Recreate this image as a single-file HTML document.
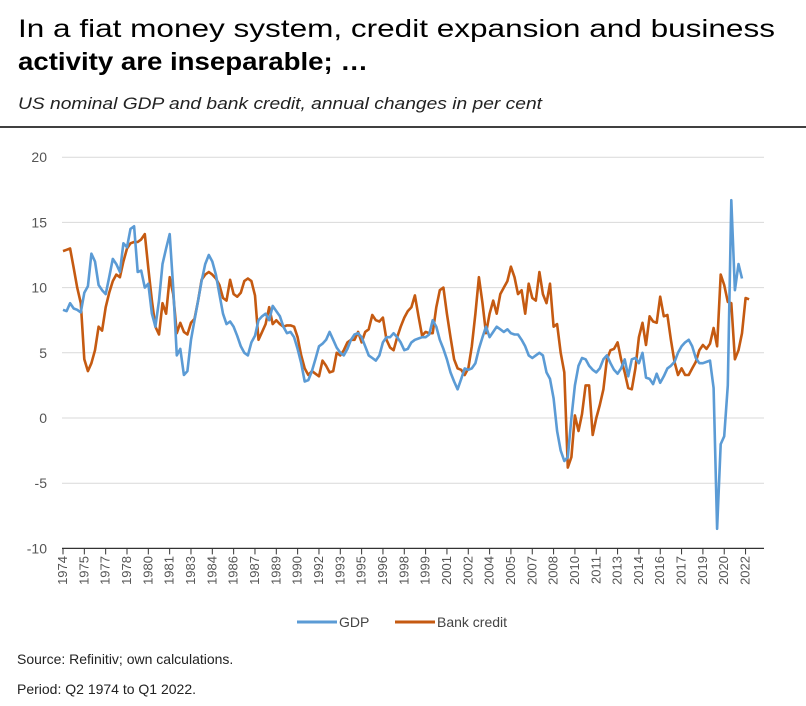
<!DOCTYPE html>
<html><head><meta charset="utf-8"><style>
html,body{margin:0;padding:0;background:#fff;}
svg{display:block;font-family:"Liberation Sans",sans-serif;}
</style></head><body>
<svg id="chart" width="806" height="706" viewBox="0 0 806 706">
<text x="18" y="37" font-size="25" fill="#000" textLength="757" lengthAdjust="spacingAndGlyphs">In a fiat money system, credit expansion and business</text>
<text x="18" y="70" font-size="25" font-weight="bold" fill="#000" textLength="350" lengthAdjust="spacingAndGlyphs">activity are inseparable; …</text>
<text x="18" y="109" font-size="17" font-style="italic" fill="#222" textLength="524" lengthAdjust="spacingAndGlyphs">US nominal GDP and bank credit, annual changes in per cent</text>
<line x1="0" y1="127" x2="806" y2="127" stroke="#000" stroke-width="1.5"/>
<g id="grid"></g>
<g id="yaxis"></g>
<g id="xaxis"></g>
<g id="series"></g>
<g>
<g>
<line x1="297" y1="622" x2="337" y2="622" stroke="#5b9bd5" stroke-width="3"/>
<text x="339" y="627" font-size="14" fill="#444">GDP</text></g>
<g>
<line x1="395" y1="622" x2="435" y2="622" stroke="#c55a11" stroke-width="3"/>
<text x="437" y="627" font-size="14" fill="#444">Bank credit</text></g>
</g>
<text x="17" y="664" font-size="14" fill="#222">Source: Refinitiv; own calculations.</text>
<text x="17" y="694" font-size="14" fill="#222">Period: Q2 1974 to Q1 2022.</text>
</svg>
<script>
const yTicks=[20,15,10,5,0,-5,-10];
const xTickLabels=["1974","1975","1977","1978","1980","1981","1983","1984","1986","1987","1989","1990","1992","1993","1995","1996","1998","1999","2001","2002","2004","2005","2007","2008","2010","2011","2013","2014","2016","2017","2019","2020","2022"];
const gdp=[8.3,8.2,8.8,8.4,8.3,8.1,9.6,10.1,
12.6,12.0,10.2,9.8,9.5,10.8,12.2,11.8,
11.2,13.4,13.1,14.5,14.7,11.2,11.3,10.0,
10.3,8.0,7.0,9.0,11.8,13.0,14.1,10.0,
4.8,5.3,3.3,3.6,6.0,7.5,
9.0,10.5,11.8,12.5,12.0,11.0,9.5,8.0,7.2,7.4,7.0,6.3,5.5,5.0,4.8,5.8,6.3,7.5,7.8,8.0,7.5,8.6,8.2,7.8,7.0,6.5,6.6,6.2,5.3,4.2,2.8,2.9,3.6,4.5,5.5,5.7,6.0,6.6,6.0,5.4,5.0,4.8,5.3,6.0,6.4,6.5,6.2,5.5,4.8,4.6,4.4,4.8,5.8,6.2,6.2,6.5,6.2,5.8,5.2,5.3,5.8,6.0,6.1,6.2,6.2,6.4,7.5,
7.0,6.0,5.3,4.5,3.5,2.8,2.2,3.0,3.8,3.7,3.8,4.2,5.3,6.2,7.0,6.2,6.6,7.0,6.8,6.6,6.8,6.5,6.4,6.4,6.0,5.5,4.8,4.6,4.8,5.0,4.8,3.5,3.0,1.5,-1.0,-2.5,-3.3,-3.0,0.0,2.5,4.0,4.6,4.5,4.0,3.7,3.5,3.8,4.5,4.8,4.2,3.7,3.4,3.8,4.5,3.2,4.5,4.6,4.2,5.0,3.1,3.0,2.6,3.4,2.7,3.2,3.8,4.0,4.3,5.0,5.5,5.8,6.0,5.5,4.6,4.2,4.2,4.3,4.4,2.3,-8.5,-2.0,-1.4,2.5,16.7,9.8,11.8,10.7];
const credit=[12.8,12.9,13.0,11.5,10.0,8.8,4.5,3.6,4.2,5.2,7.0,6.7,8.5,9.6,10.5,11.0,10.8,12.0,13.0,13.4,13.5,13.5,13.7,14.1,11.5,9.0,7.0,6.4,8.8,8.0,10.8,9.5,6.5,7.3,6.6,6.4,7.3,7.6,9.0,10.6,11.0,11.2,11.0,10.7,10.2,9.2,9.0,10.6,9.5,9.3,9.6,10.5,10.7,10.5,9.4,6.0,6.6,7.2,8.5,7.2,7.5,7.2,7.0,7.1,7.1,7.0,6.2,4.8,3.8,3.3,3.6,3.4,3.2,4.4,4.0,3.5,3.6,5.0,4.8,5.2,5.8,6.0,6.0,6.6,5.8,6.6,6.8,7.9,7.5,7.4,7.7,6.0,5.4,5.2,6.2,7.0,7.7,8.2,8.5,9.4,7.8,6.3,6.6,6.5,6.5,8.5,9.8,10.0,8.0,6.2,4.5,3.8,3.7,3.3,3.8,5.5,8.0,10.8,8.8,6.5,8.0,9.0,8.0,9.5,10.0,10.5,11.6,10.8,9.5,9.8,8.0,10.3,9.2,9.0,11.2,9.5,8.8,10.3,7.0,7.2,5.0,3.5,-3.8,-3.0,0.2,-1.0,0.3,2.5,2.5,-1.3,0.0,1.0,2.2,4.5,5.2,5.3,5.8,4.5,3.5,2.3,2.2,3.8,6.2,7.3,5.6,7.8,7.4,7.3,9.3,7.8,7.9,6.0,4.3,3.3,3.8,3.3,3.3,3.8,4.3,5.2,5.6,5.3,5.7,6.9,5.5,11.0,10.2,8.9,8.8,4.5,5.2,6.5,9.2,9.1];

const NS="http://www.w3.org/2000/svg";
const X0=63,DX=3.555,PL=62,PR=764;
function xq(q){return X0+q*DX;}
function yv(v){return 418-v*13.04;}
function mk(t,a,p){const e=document.createElementNS(NS,t);for(const k in a)e.setAttribute(k,a[k]);p.appendChild(e);return e;}
const grid=document.getElementById('grid'),ya=document.getElementById('yaxis'),xa=document.getElementById('xaxis'),se=document.getElementById('series');
yTicks.forEach(v=>{
  if(v!==-10){const g=mk('line',{x1:PL,x2:PR,y1:yv(v),y2:yv(v),stroke:'#d9d9d9','stroke-width':1},grid);
  
  }
  const t=mk('text',{x:47,y:yv(v)+5,'text-anchor':'end','font-size':14,fill:'#555'},ya);
  
  
  t.textContent=v;
});
const ax=mk('line',{x1:PL,x2:PR,y1:yv(-10),y2:yv(-10),stroke:'#333','stroke-width':1.2},xa);


const step=6;
for(let i=0;i<=33;i++){
  const x=xq(i*step);
  if(x>PR+1)break;
  const tk=mk('line',{x1:x,x2:x,y1:yv(-10),y2:yv(-10)+6,stroke:'#333','stroke-width':1},xa);
  
  
}
xTickLabels.forEach((l,i)=>{
  const x=xq(i*step)+4,y=556;
  const t=mk('text',{x:x,y:y,'text-anchor':'end','font-size':13,fill:'#555',transform:`rotate(-90 ${x} ${y})`},xa);
  
  
  t.textContent=l;
});
function path(arr){return arr.map((v,i)=>(i?'L':'M')+xq(i).toFixed(1)+','+yv(v).toFixed(1)).join('');}
const pc=mk('path',{d:path(credit),fill:'none',stroke:'#c55a11','stroke-width':2.6,'stroke-linejoin':'round'},se);


const pg=mk('path',{d:path(gdp),fill:'none',stroke:'#5b9bd5','stroke-width':2.6,'stroke-linejoin':'round'},se);


</script>
</body></html>
